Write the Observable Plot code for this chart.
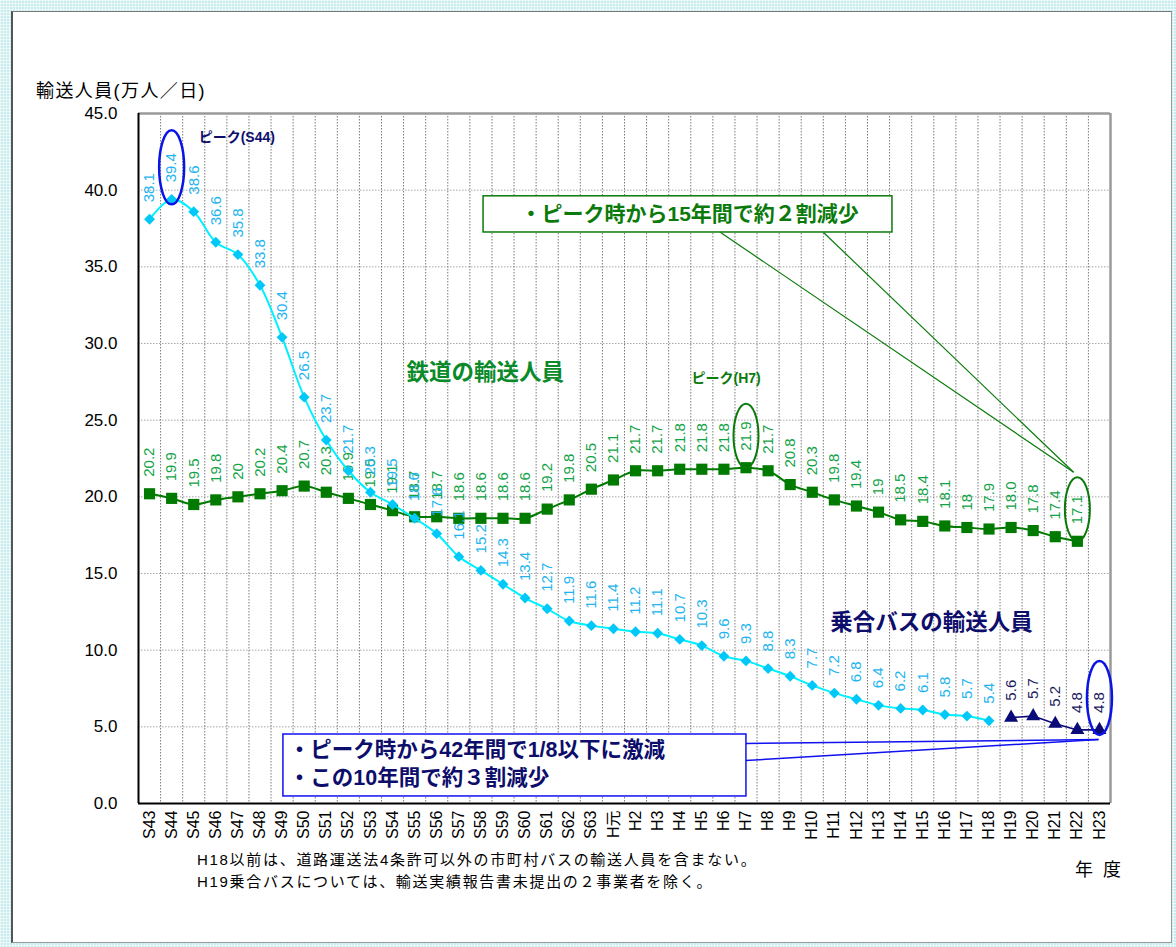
<!DOCTYPE html>
<html><head><meta charset="utf-8">
<script src="https://cdn.jsdelivr.net/npm/d3@7"></script>
<script src="https://cdn.jsdelivr.net/npm/@observablehq/plot@0.6"></script>
<style>
html,body{margin:0;padding:0;}
body{width:1176px;height:947px;position:relative;overflow:hidden;
 background-color:#c9ecee;
 background-image:linear-gradient(rgba(255,255,255,.55) 1px, transparent 1px),linear-gradient(90deg, rgba(255,255,255,.55) 1px, transparent 1px);
 background-size:3px 3px;
 font-family:"Liberation Sans","Noto Sans CJK JP",Arial,sans-serif;}
#panel{position:absolute;left:11px;top:11px;width:1161px;height:932px;box-sizing:border-box;background:#fff;
 border-left:2px solid #555;border-top:1px solid #777;border-right:1px solid #999;border-bottom:1px solid #999;}
#chart{position:absolute;left:0;top:0;}
.t{position:absolute;white-space:nowrap;color:#000;}
</style></head>
<body>
<div id="panel"></div>
<div id="chart"></div>
<div class="t" style="left:36px;top:76px;font-size:18px;letter-spacing:1.4px;">輸送人員(万人／日)</div>
<div class="t" style="left:197px;top:848px;font-size:15px;letter-spacing:1.7px;">H18以前は、道路運送法4条許可以外の市町村バスの輸送人員を含まない。</div>
<div class="t" style="left:197px;top:870px;font-size:15px;letter-spacing:1.7px;">H19乗合バスについては、輸送実績報告書未提出の２事業者を除く。</div>
<div class="t" style="left:1075px;top:855px;font-size:18px;">年&nbsp;&nbsp;度</div>
<script>
const categories = ["S43","S44","S45","S46","S47","S48","S49","S50","S51","S52","S53","S54","S55","S56","S57","S58","S59","S60","S61","S62","S63",
  "H元","H2","H3","H4","H5","H6","H7","H8","H9","H10","H11","H12","H13","H14","H15","H16","H17","H18","H19","H20","H21","H22","H23"];
const railValues = [20.2,19.9,19.5,19.8,20.0,20.2,20.4,20.7,20.3,19.9,19.5,19.1,18.7,18.7,18.6,18.6,18.6,18.6,19.2,19.8,20.5,
  21.1,21.7,21.7,21.8,21.8,21.8,21.9,21.7,20.8,20.3,19.8,19.4,19.0,18.5,18.4,18.1,18.0,17.9,18.0,17.8,17.4,17.1];
const railLabels = ["20.2","19.9","19.5","19.8","20","20.2","20.4","20.7","20.3","19.9","19.5","19.1","18.7","18.7","18.6","18.6","18.6","18.6","19.2","19.8","20.5",
  "21.1","21.7","21.7","21.8","21.8","21.8","21.9","21.7","20.8","20.3","19.8","19.4","19","18.5","18.4","18.1","18","17.9","18.0","17.8","17.4","17.1"];
const busValues = [38.1,39.4,38.6,36.6,35.8,33.8,30.4,26.5,23.7,21.7,20.3,19.5,18.6,17.6,16.1,15.2,14.3,13.4,12.7,11.9,11.6,
  11.4,11.2,11.1,10.7,10.3,9.6,9.3,8.8,8.3,7.7,7.2,6.8,6.4,6.2,6.1,5.8,5.7,5.4];
const busNewCats = ["H19","H20","H21","H22","H23"];
const busNewValues = [5.6,5.7,5.2,4.8,4.8];
const yTicks = [0,5,10,15,20,25,30,35,40,45];

const idx = c => categories.indexOf(c);
const rail = railValues.map((v,i)=>({i, v, label: railLabels[i]}));
const bus = busValues.map((v,i)=>({i, v, label: v.toFixed(1)}));
const busNew = busNewValues.map((v,k)=>({i: idx(busNewCats[k]), v, label: v.toFixed(1)}));
const bounds = categories.slice(1).map((c,i)=>i+0.5);

// ellipse symbol factory
function ellipseSymbol(rx, ry){
  const k = 0.5523;
  return {draw(ctx){
    ctx.moveTo(rx,0);
    ctx.bezierCurveTo(rx, ry*k, rx*k, ry, 0, ry);
    ctx.bezierCurveTo(-rx*k, ry, -rx, ry*k, -rx, 0);
    ctx.bezierCurveTo(-rx, -ry*k, -rx*k, -ry, 0, -ry);
    ctx.bezierCurveTo(rx*k, -ry, rx, -ry*k, rx, 0);
    ctx.closePath();
  }};
}
const peakEllipses = [
  {cat:"S44", v:39.4, color:"#0a14e6"},
  {cat:"H23", v:4.8, color:"#0a14e6"}
];
const greenEllipses = [
  {cat:"H7", v:21.9, color:"#0a7a0a"},
  {cat:"H22", v:17.1, color:"#0a7a0a"}
];

// annotation anchors (data space: category index, value)
const greenBox = [{x1:15.12, x2:33.63, y1:37.24, y2:39.6}];
const greenLinks = [{x1:25.85,y1:37.24,x2:41.83,y2:21.6},{x1:30.51,y1:37.24,x2:41.83,y2:21.6}];
const blueBox = [{x1:6.06, x2:27.02, y1:0.46, y2:4.5}];
const blueLinks = [{x1:26.98,y1:3.91,x2:42.96,y2:4.17},{x1:26.98,y1:2.80,x2:42.96,y2:4.17}];
const greenNote = [{x:24.45, y:38.42, text:"・ピーク時から15年間で約２割減少"}];
const blueNotes = [{x:6.3, y:3.48, text:"・ピーク時から42年間で1/8以下に激減"},{x:6.3, y:1.68, text:"・この10年間で約３割減少"}];
const titles = [
  {x:15.2, y:28.1, text:"鉄道の輸送人員", color:"#0a8a2a", size:22.5},
  {x:35.4, y:11.8, text:"乗合バスの輸送人員", color:"#0d0d6b", size:22.5},
  {x:3.95, y:43.45, text:"ピーク(S44)", color:"#0d0d6b", size:14},
  {x:26.1, y:27.7, text:"ピーク(H7)", color:"#0a7a0a", size:14}
];

const font = "'Liberation Sans','Noto Sans CJK JP',Arial,sans-serif";
const chart = Plot.plot({
  width:1176, height:947,
  marginLeft:138, marginRight:66, marginTop:113, marginBottom:144,
  style:{background:"transparent", fontFamily:font, overflow:"visible"},
  x:{type:"linear", domain:[-0.5,43.5], axis:null},
  y:{domain:[0,45], axis:null},
  marks:[
    Plot.ruleY(yTicks.filter(d=>d>0 && d<45), {stroke:"#a8a8a8", strokeDasharray:"1.5,1.5", strokeWidth:1}),
    Plot.ruleX(bounds, {stroke:"#7a7a7a", strokeDasharray:"1.5,1.5", strokeWidth:1}),
    Plot.ruleY([45], {stroke:"#9a9a9a", strokeWidth:2.5}),
    Plot.ruleX([43.5], {stroke:"#9a9a9a", strokeWidth:2.5}),
    Plot.ruleY([0], {stroke:"#000", strokeWidth:2}),
    Plot.ruleX([-0.5], {stroke:"#000", strokeWidth:2}),
    // y tick labels
    Plot.text(yTicks, {x:-0.5, y:d=>d, text:d=>d.toFixed(1), textAnchor:"end", dx:-21, fontSize:17, fill:"#000"}),
    // x tick labels
    Plot.text(categories, {x:(d,i)=>i, y:0, text:d=>d, rotate:-90, textAnchor:"end", dy:7, fontSize:16, fill:"#000"}),
    // callouts
    Plot.link(greenLinks, {x1:"x1",y1:"y1",x2:"x2",y2:"y2", stroke:"#0a7a0a", strokeWidth:1.2}),
    Plot.rect(greenBox, {x1:"x1",x2:"x2",y1:"y1",y2:"y2", fill:"#fff", stroke:"#0a7a0a", strokeWidth:1.5}),
    Plot.text(greenNote, {x:"x", y:"y", text:"text", fontSize:21, fontWeight:"bold", fill:"#0a7a0a", textAnchor:"middle"}),
    // rail series
    Plot.line(rail, {x:"i", y:"v", stroke:"#007a00", strokeWidth:2, curve:"catmull-rom"}),
    Plot.dot(rail, {x:"i", y:"v", symbol:"square", r:6.3, fill:"#007a00", stroke:"none"}),
    Plot.text(rail, {x:"i", y:"v", text:"label", rotate:-90, textAnchor:"start", dy:-17, fontSize:15, fill:"#12a346"}),
    // bus series
    Plot.line(bus, {x:"i", y:"v", stroke:"#00f0ff", strokeWidth:2, curve:"catmull-rom"}),
    Plot.dot(bus, {x:"i", y:"v", symbol:"diamond2", r:4.9, fill:"#00c8f8", stroke:"none"}),
    Plot.text(bus, {x:"i", y:"v", text:"label", rotate:-90, textAnchor:"start", dy:-17, fontSize:15, fill:"#22b4ee"}),
    Plot.line(busNew, {x:"i", y:"v", stroke:"#0a0a78", strokeWidth:1.6}),
    Plot.dot(busNew, {x:"i", y:"v", symbol:"triangle", r:5.2, fill:"#0a0a78", stroke:"none"}),
    Plot.text(busNew, {x:"i", y:"v", text:"label", rotate:-90, textAnchor:"start", dy:-17, fontSize:15, fill:"#1a1a5e"}),
    // blue callout
    Plot.link(blueLinks, {x1:"x1",y1:"y1",x2:"x2",y2:"y2", stroke:"#1010f0", strokeWidth:1.5}),
    Plot.rect(blueBox, {x1:"x1",x2:"x2",y1:"y1",y2:"y2", fill:"#fff", stroke:"#1010f0", strokeWidth:1.5}),
    Plot.text(blueNotes, {x:"x", y:"y", text:"text", fontSize:21.5, fontWeight:"bold", fill:"#0d0d6b", textAnchor:"start"}),
    // ellipses
    Plot.dot(peakEllipses, {x:d=>idx(d.cat), y:"v", dy:-32, symbol:ellipseSymbol(12.5,37), r:5, fill:"none", stroke:"color", strokeWidth:2.5}),
    Plot.dot(greenEllipses, {x:d=>idx(d.cat), y:"v", dy:-32, symbol:ellipseSymbol(12.5,32), r:5, fill:"none", stroke:"color", strokeWidth:2}),
    // titles
    Plot.text(titles, {x:"x", y:"y", text:"text", fill:"color", fontSize:"size", fontWeight:"bold", textAnchor:"middle"})
  ]
});
document.getElementById("chart").appendChild(chart);
</script>
</body></html>
